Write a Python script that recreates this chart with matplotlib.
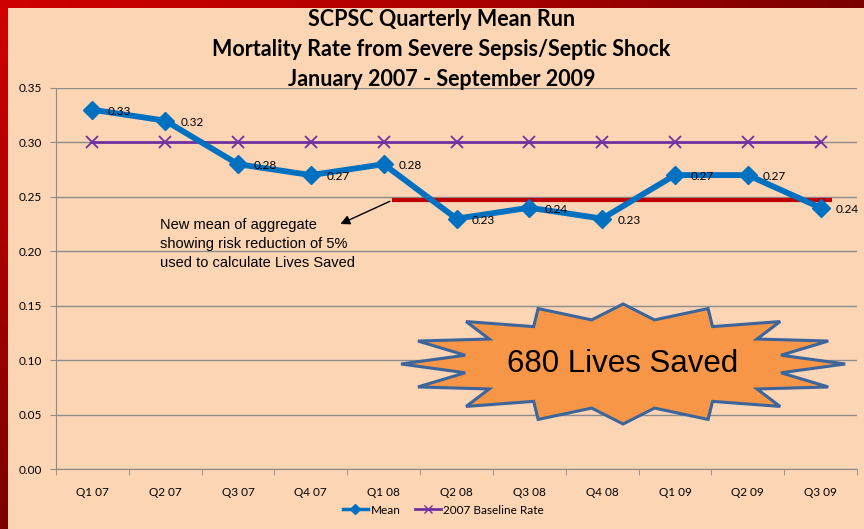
import numpy as np
import matplotlib
matplotlib.use("Agg")
import matplotlib.pyplot as plt
from matplotlib.patches import Polygon
from matplotlib.lines import Line2D
from matplotlib.colors import LinearSegmentedColormap

# ---- data ----
quarters = ["Q1 07", "Q2 07", "Q3 07", "Q4 07", "Q1 08", "Q2 08",
            "Q3 08", "Q4 08", "Q1 09", "Q2 09", "Q3 09"]
mean_rate = [0.33, 0.32, 0.28, 0.27, 0.28, 0.23, 0.24, 0.23, 0.27, 0.27, 0.24]
baseline_rate = [0.30] * 11
new_mean = 0.247
new_mean_span = (4.12, 10.16)
y_ticks = [0.00, 0.05, 0.10, 0.15, 0.20, 0.25, 0.30, 0.35]

BG = "#FCD5B5"
BLUE = "#0070C0"
PURPLE = "#7030A0"
RED = "#C00000"
GRID = "#8C8C8C"
FONT = "Lato"

W, H = 864, 529
fig = plt.figure(figsize=(W / 100, H / 100), dpi=100, facecolor=BG)

# red border strips
top = fig.add_axes([0, 1 - 8 / H, 1, 8 / H])
grad = np.linspace(0, 1, 256)[None, :]
cm_top = LinearSegmentedColormap.from_list("t", ["#D00000", "#B00000", "#7A0000"])
top.imshow(grad, aspect="auto", cmap=cm_top, extent=[0, 1, 0, 1])
top.axis("off")
left = fig.add_axes([0, 0, 8 / W, 1 - 8 / H])
cm_left = LinearSegmentedColormap.from_list("l", ["#D00000", "#7A0000"])
left.imshow(np.linspace(0, 1, 256)[:, None], aspect="auto", cmap=cm_left, extent=[0, 1, 0, 1])
left.axis("off")

ax = fig.add_axes([56 / W, (H - 469) / H, 801 / W, 381 / H])
ax.set_facecolor(BG)
x = np.arange(len(quarters))

ax.set_xlim(-0.5, len(quarters) - 0.5)
ax.set_ylim(0, 0.35)
ax.set_yticks(y_ticks)
ax.set_yticklabels([f"{v:.2f}" for v in y_ticks], fontsize=8.5, family=FONT)
ax.yaxis.grid(True, color=GRID, lw=1)
ax.set_axisbelow(True)
ax.set_xticks(x)
ax.set_xticklabels(quarters, fontsize=8.5, family=FONT)
ax.set_xticks(np.arange(-0.5, len(quarters) + 0.5, 1), minor=True)
ax.tick_params(axis="x", which="major", length=0, pad=13)
ax.tick_params(axis="x", which="minor", length=4, color=GRID)
ax.tick_params(axis="y", length=4, color=GRID, pad=6)
for s in ["top", "right"]:
    ax.spines[s].set_visible(False)
for s in ["left", "bottom"]:
    ax.spines[s].set_color(GRID)

ax.plot(x, baseline_rate, color=PURPLE, lw=2, marker="x", ms=8, mew=1.3, zorder=3)
ax.plot(x, mean_rate, color=BLUE, lw=4.2, marker="D", ms=9, zorder=4)
for xi, v in zip(x, mean_rate):
    ax.annotate(f"{v:.2f}", (xi, v), xytext=(11, -1), textcoords="offset points",
                ha="left", va="center", fontsize=8.5, family=FONT, zorder=5)

ax.hlines(new_mean, *new_mean_span, color=RED, lw=3, zorder=3)
ax.annotate("", xy=(3.37, 0.224), xytext=(new_mean_span[0], new_mean),
            arrowprops=dict(arrowstyle="-|>", color="black", lw=1, mutation_scale=14))
ax.text(0.93, 0.2305, "New mean of aggregate\nshowing risk reduction of 5%\nused to calculate Lives Saved",
        ha="left", va="top", fontsize=10.5, family="Liberation Sans", linespacing=1.45)

# starburst
cx, cy = 0.708, 0.2756
ra, rb = 0.2772, 0.1575
ia, ib = 0.201, 0.118
n = 16
pts = []
for k in range(n):
    a1 = 2 * np.pi * k / n
    a2 = 2 * np.pi * (k + 0.5) / n
    pts.append((cx + ra * np.cos(a1), cy + rb * np.sin(a1)))
    pts.append((cx + ia * np.cos(a2), cy + ib * np.sin(a2)))
star = Polygon(pts, closed=True, transform=ax.transAxes, facecolor="#F79646",
               edgecolor="#3C659C", lw=2.2, zorder=6)
ax.add_patch(star)
ax.text(cx, cy, "680 Lives Saved", transform=ax.transAxes, ha="center", va="center",
        fontsize=22.5, family="Liberation Sans", zorder=7)

for yy, t in [(20, "SCPSC Quarterly Mean Run"),
              (50, "Mortality Rate from Severe Sepsis/Septic Shock"),
              (80, "January 2007 - September 2009")]:
    fig.text(0.511, 1 - yy / H, t, ha="center", va="center",
             fontsize=15.5, weight="bold", family=FONT)

handles = [Line2D([], [], color=BLUE, lw=2.5, marker="D", ms=5),
           Line2D([], [], color=PURPLE, lw=2, marker="x", ms=6)]
fig.legend(handles, ["Mean", "2007 Baseline Rate"], loc="center",
           bbox_to_anchor=(0.513, 1 - 510 / H), ncol=2, frameon=False,
           prop=dict(family=FONT, size=8.5), handlelength=2.2, handletextpad=0.2,
           columnspacing=1.2)

fig.savefig("out.png", dpi=100, facecolor=BG)
